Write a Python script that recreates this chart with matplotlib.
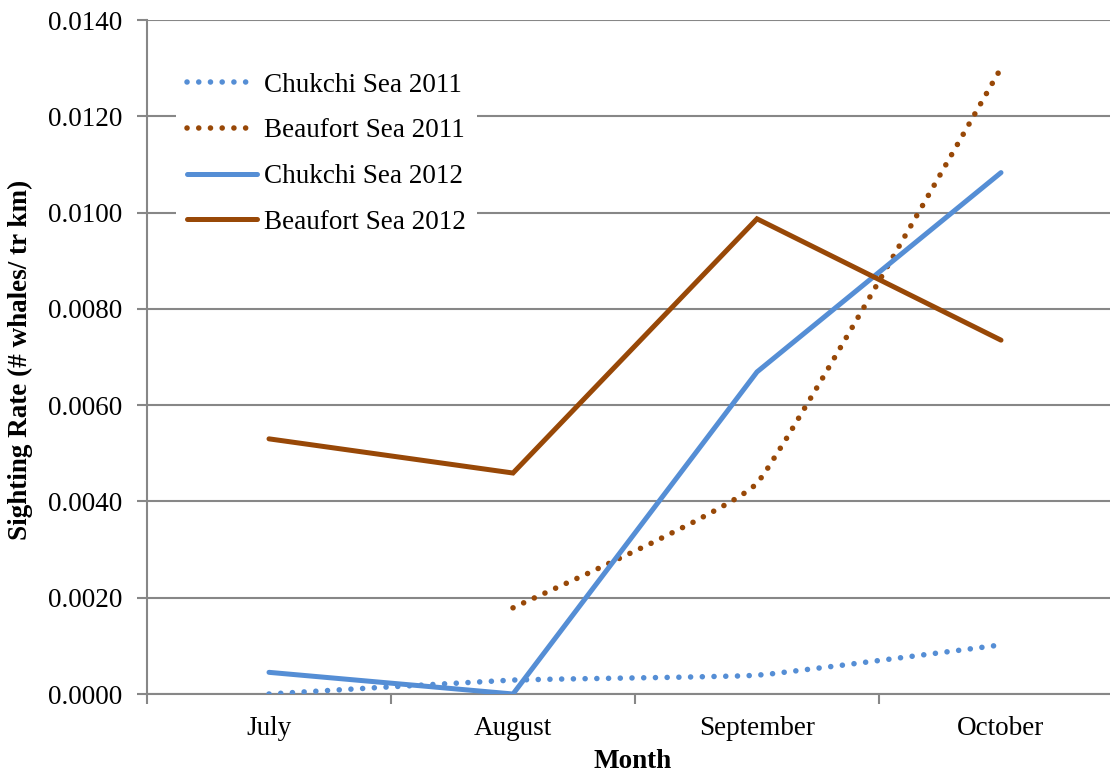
import numpy as np
import matplotlib
matplotlib.use("Agg")
import matplotlib.pyplot as plt
from matplotlib.path import Path
from matplotlib.patches import PathPatch
from matplotlib.lines import Line2D

plt.rcParams['font.family'] = ['Liberation Serif', 'DejaVu Serif']

months = ["July", "August", "September", "October"]
chukchi_2011 = [0.0000, 0.00029, 0.00039, 0.00102]
beaufort_2011 = [np.nan, 0.00179, 0.00438, 0.01300]
chukchi_2012 = [0.00045, 0.0000, 0.00669, 0.01083]
beaufort_2012 = [0.00530, 0.00459, 0.00987, 0.00735]

blue = "#558ED5"
brown = "#984807"
grid_col = "#878787"
fs = 19.5


def smooth_path(xs, ys, f=0.05):
    # lightly smoothed line (Excel "smoothed line" look), cubic Bezier segments
    pts = [(x, y) for x, y in zip(xs, ys) if not np.isnan(y)]
    pts = np.array(pts, dtype=float)
    n = len(pts)
    verts = [pts[0]]
    codes = [Path.MOVETO]
    for i in range(n - 1):
        p0 = pts[max(i - 1, 0)]
        p1 = pts[i]
        p2 = pts[i + 1]
        p3 = pts[min(i + 2, n - 1)]
        c1 = p1 + (p2 - p0) * f
        c2 = p2 - (p3 - p1) * f
        verts += [c1, c2, p2]
        codes += [Path.CURVE4] * 3
    return Path(verts, codes)


fig = plt.figure(figsize=(11.1, 7.76), dpi=100)
ax = fig.add_axes([147 / 1110, 82 / 776, 976 / 1110, 674 / 776])

x = np.arange(len(months))
lw = 3.6
lw_dot = 4.0
dots = (0, (0.01, 2.1))

for ys, col in [(chukchi_2011, blue), (beaufort_2011, brown)]:
    patch = PathPatch(smooth_path(x, ys), fill=False, edgecolor=col,
                      linewidth=lw_dot, linestyle=dots, capstyle='round', zorder=3)
    ax.add_patch(patch)

ax.plot(x, chukchi_2012, color=blue, linewidth=lw, solid_capstyle='round',
        solid_joinstyle='miter', zorder=3)
ax.plot(x, beaufort_2012, color=brown, linewidth=lw, solid_capstyle='round',
        solid_joinstyle='miter', zorder=3)

ax.set_xlim(-0.5, 3.5)
ax.set_ylim(0, 0.014)
yt = np.arange(0, 0.0141, 0.002)
ax.set_yticks(yt)
ax.set_yticklabels([f"{v:.4f}" for v in yt])
ax.set_xticks(np.arange(-0.5, 3.6, 1.0))
ax.set_xticklabels([])
ax.set_xticks(x, minor=True)
ax.set_xticklabels(months, minor=True)

ax.tick_params(axis='x', which='major', length=7, width=1.5, color=grid_col, direction='out')
ax.tick_params(axis='x', which='minor', length=0, pad=16, labelsize=fs)
ax.tick_params(axis='y', length=7, width=1.5, color=grid_col, pad=10.5, labelsize=fs)

ax.grid(axis='y', color=grid_col, linewidth=1.5)
ax.set_axisbelow(True)
for s in ['top', 'right']:
    ax.spines[s].set_visible(False)
for s in ['left', 'bottom']:
    ax.spines[s].set_color(grid_col)
    ax.spines[s].set_linewidth(1.5)

fig.text(20 / 1110, 1 - 360 / 776, "Sighting Rate (# whales/ tr km)", rotation=90,
         ha='center', va='center', fontsize=fs, fontweight='bold')
fig.text(633 / 1110, 1 - 761 / 776, "Month", ha='center', va='center',
         fontsize=fs, fontweight='bold')

handles = [
    Line2D([], [], color=blue, linewidth=lw_dot, linestyle=dots, dash_capstyle='round'),
    Line2D([], [], color=brown, linewidth=lw_dot, linestyle=dots, dash_capstyle='round'),
    Line2D([], [], color=blue, linewidth=lw, solid_capstyle='round'),
    Line2D([], [], color=brown, linewidth=lw, solid_capstyle='round'),
]
labels = ["Chukchi Sea 2011", "Beaufort Sea 2011", "Chukchi Sea 2012", "Beaufort Sea 2012"]
leg = ax.legend(handles, labels, loc='upper left',
                bbox_to_anchor=(176 / 1110, 1 - 62 / 776), bbox_transform=fig.transFigure,
                fontsize=fs, frameon=True, fancybox=False, borderpad=0.4,
                handlelength=2.6, handletextpad=0.26, labelspacing=0.76,
                borderaxespad=0)
leg.get_frame().set_facecolor('white')
leg.get_frame().set_edgecolor('none')
leg.get_frame().set_alpha(1)

fig.savefig("out.png", dpi=100)
